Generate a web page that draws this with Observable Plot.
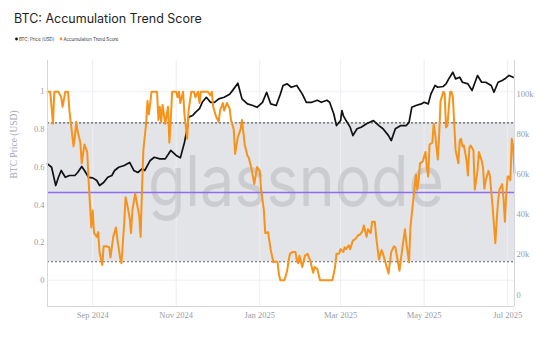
<!DOCTYPE html>
<html><head><meta charset="utf-8">
<script src="https://cdn.jsdelivr.net/npm/d3@7"></script>
<script src="https://cdn.jsdelivr.net/npm/@observablehq/plot@0.6"></script>
<style>
html,body{margin:0;padding:0;background:#fff;}
#wrap{position:relative;width:552px;height:355px;overflow:hidden;font-family:Inter,"Noto Sans",sans-serif;}
#title{position:absolute;left:14px;top:11px;font-size:12.5px;color:#1f1f24;white-space:nowrap;}
#legend{position:absolute;left:0;top:33px;}
#chart{position:absolute;left:0;top:50px;}
</style></head><body>
<div id="wrap">
  <div id="title">BTC: Accumulation Trend Score</div>
  <svg id="legend" width="200" height="12" font-family="Inter, sans-serif" font-size="4.4">
    <circle cx="16.5" cy="6" r="1.4" fill="#111"></circle>
    <text x="19" y="7.6" fill="#333">BTC: Price [USD]</text>
    <circle cx="61" cy="6" r="1.4" fill="#f7931a"></circle>
    <text x="63.5" y="7.6" fill="#333">Accumulation Trend Score</text>
  </svg>
  <div id="chart"></div>
</div>
<script>
// ---- data ----
const priceDates = ["2024-07-30","2024-08-02","2024-08-05","2024-08-07","2024-08-09","2024-08-12","2024-08-15","2024-08-19","2024-08-21","2024-08-24","2024-08-26","2024-08-29","2024-09-01","2024-09-04","2024-09-06","2024-09-09","2024-09-12","2024-09-15","2024-09-17","2024-09-20","2024-09-24","2024-09-28","2024-10-01","2024-10-04","2024-10-07","2024-10-09","2024-10-13","2024-10-16","2024-10-20","2024-10-24","2024-10-28","2024-11-01","2024-11-04","2024-11-07","2024-11-09","2024-11-10","2024-11-13","2024-11-15","2024-11-18","2024-11-20","2024-11-23","2024-11-26","2024-11-29","2024-12-02","2024-12-06","2024-12-10","2024-12-13","2024-12-16","2024-12-19","2024-12-23","2024-12-27","2024-12-30","2025-01-03","2025-01-06","2025-01-09","2025-01-13","2025-01-16","2025-01-18","2025-01-21","2025-01-24","2025-01-28","2025-02-01","2025-02-04","2025-02-08","2025-02-12","2025-02-15","2025-02-19","2025-02-21","2025-02-24","2025-02-26","2025-03-01","2025-03-02","2025-03-03","2025-03-05","2025-03-08","2025-03-10","2025-03-13","2025-03-16","2025-03-20","2025-03-25","2025-03-29","2025-04-01","2025-04-05","2025-04-07","2025-04-10","2025-04-14","2025-04-18","2025-04-20","2025-04-22","2025-04-25","2025-04-29","2025-05-01","2025-05-04","2025-05-06","2025-05-09","2025-05-11","2025-05-15","2025-05-17","2025-05-19","2025-05-22","2025-05-24","2025-05-27","2025-05-29","2025-06-02","2025-06-05","2025-06-09","2025-06-12","2025-06-15","2025-06-19","2025-06-21","2025-06-24","2025-06-27","2025-06-29","2025-07-02","2025-07-05"];
const priceK = [65.3,63.6,54.5,58.6,62.0,58.6,59.5,59.5,61.0,64.0,62.0,58.6,58.3,57.0,54.5,56.0,58.6,59.5,62.0,63.6,64.5,66.0,62.0,61.0,62.8,62.0,67.0,68.6,67.8,67.8,72.0,69.5,68.3,76.0,82.8,88.6,89.4,91.0,92.8,96.0,98.5,96.0,96.0,97.7,98.5,100.0,102.7,105.5,97.7,95.2,94.4,93.5,96.0,101.0,95.2,94.4,100.0,104.4,105.2,103.5,104.4,100.2,96.0,96.0,97.0,96.0,97.0,96.0,90.3,84.4,86.9,91.9,89.4,86.9,83.6,79.4,82.8,83.6,85.3,86.9,84.4,82.8,79.4,76.9,82.8,84.4,84.4,86.0,93.5,94.4,95.2,96.0,95.2,100.2,104.4,103.5,103.9,105.2,107.7,111.0,107.7,108.5,106.0,105.2,101.9,109.4,106.0,106.0,104.4,101.0,106.0,106.9,107.7,109.4,108.5];

const atsDates = ["2024-07-30","2024-08-01","2024-08-03","2024-08-04","2024-08-07","2024-08-09","2024-08-10","2024-08-12","2024-08-14","2024-08-15","2024-08-18","2024-08-19","2024-08-20","2024-08-21","2024-08-23","2024-08-24","2024-08-26","2024-08-28","2024-08-29","2024-08-31","2024-09-01","2024-09-02","2024-09-04","2024-09-05","2024-09-06","2024-09-08","2024-09-09","2024-09-11","2024-09-13","2024-09-14","2024-09-16","2024-09-18","2024-09-19","2024-09-21","2024-09-22","2024-09-24","2024-09-25","2024-09-26","2024-09-28","2024-09-29","2024-09-30","2024-10-02","2024-10-03","2024-10-05","2024-10-06","2024-10-07","2024-10-08","2024-10-10","2024-10-11","2024-10-12","2024-10-14","2024-10-18","2024-10-19","2024-10-20","2024-10-21","2024-10-22","2024-10-24","2024-10-26","2024-10-27","2024-10-28","2024-10-29","2024-11-01","2024-11-02","2024-11-03","2024-11-04","2024-11-06","2024-11-07","2024-11-09","2024-11-10","2024-11-12","2024-11-14","2024-11-15","2024-11-17","2024-11-18","2024-11-19","2024-11-24","2024-11-26","2024-11-27","2024-11-28","2024-11-30","2024-12-02","2024-12-03","2024-12-05","2024-12-06","2024-12-08","2024-12-10","2024-12-11","2024-12-13","2024-12-14","2024-12-16","2024-12-18","2024-12-19","2024-12-21","2024-12-23","2024-12-24","2024-12-26","2024-12-28","2024-12-30","2025-01-01","2025-01-02","2025-01-04","2025-01-05","2025-01-07","2025-01-08","2025-01-09","2025-01-11","2025-01-13","2025-01-14","2025-01-15","2025-01-16","2025-01-19","2025-01-21","2025-01-22","2025-01-23","2025-01-25","2025-01-27","2025-01-28","2025-01-29","2025-01-30","2025-02-01","2025-02-03","2025-02-05","2025-02-07","2025-02-09","2025-02-10","2025-02-12","2025-02-14","2025-02-20","2025-02-23","2025-02-25","2025-02-26","2025-02-28","2025-03-01","2025-03-03","2025-03-04","2025-03-05","2025-03-07","2025-03-08","2025-03-10","2025-03-12","2025-03-14","2025-03-15","2025-03-17","2025-03-18","2025-03-20","2025-03-21","2025-03-23","2025-03-24","2025-03-26","2025-03-27","2025-03-29","2025-03-31","2025-04-01","2025-04-05","2025-04-07","2025-04-09","2025-04-10","2025-04-13","2025-04-15","2025-04-17","2025-04-18","2025-04-20","2025-04-21","2025-04-23","2025-04-25","2025-04-26","2025-04-27","2025-04-28","2025-04-30","2025-05-02","2025-05-03","2025-05-04","2025-05-05","2025-05-07","2025-05-08","2025-05-09","2025-05-11","2025-05-12","2025-05-13","2025-05-15","2025-05-16","2025-05-17","2025-05-18","2025-05-20","2025-05-21","2025-05-22","2025-05-23","2025-05-24","2025-05-26","2025-05-27","2025-05-28","2025-05-29","2025-05-30","2025-06-01","2025-06-02","2025-06-03","2025-06-04","2025-06-06","2025-06-07","2025-06-09","2025-06-10","2025-06-12","2025-06-13","2025-06-14","2025-06-15","2025-06-17","2025-06-18","2025-06-20","2025-06-22","2025-06-23","2025-06-24","2025-06-25","2025-06-27","2025-06-28","2025-06-29","2025-06-30","2025-07-01","2025-07-02","2025-07-03","2025-07-04","2025-07-05","2025-07-06"];
const atsValues = [1.0,1.0,0.83,1.0,1.0,0.97,0.92,1.0,1.0,0.90,0.71,0.76,0.84,0.79,0.73,0.62,0.72,0.68,0.53,0.28,0.37,0.25,0.23,0.255,0.15,0.08,0.18,0.18,0.175,0.12,0.23,0.28,0.22,0.12,0.09,0.30,0.44,0.41,0.33,0.25,0.37,0.46,0.42,0.34,0.23,0.48,0.69,0.83,0.95,0.88,1.0,1.0,0.85,0.92,0.84,0.93,0.83,0.92,0.73,0.85,1.0,1.0,0.97,1.0,0.94,1.0,0.88,0.75,0.90,1.0,1.0,0.97,1.0,0.94,1.0,1.0,0.98,1.0,0.92,0.87,0.84,0.90,0.94,0.90,0.94,0.91,0.85,0.80,0.67,0.76,0.80,0.85,0.72,0.66,0.65,0.59,0.51,0.60,0.58,0.48,0.37,0.25,0.255,0.21,0.16,0.095,0.10,0.095,0.03,0.0,0.0,0.05,0.10,0.14,0.15,0.15,0.11,0.09,0.13,0.07,0.13,0.14,0.10,0.04,0.07,0.06,0.0,0.0,0.0,0.07,0.14,0.14,0.165,0.15,0.175,0.165,0.185,0.165,0.21,0.22,0.24,0.24,0.26,0.29,0.23,0.27,0.25,0.31,0.31,0.23,0.11,0.16,0.14,0.035,0.15,0.18,0.175,0.05,0.165,0.27,0.20,0.095,0.28,0.42,0.56,0.48,0.53,0.62,0.63,0.68,0.60,0.55,0.72,0.73,0.83,0.78,0.64,0.77,0.95,1.0,0.99,0.81,0.82,1.0,1.0,0.97,0.83,0.69,0.62,0.74,0.75,0.71,0.715,0.635,0.556,0.70,0.715,0.69,0.48,0.58,0.68,0.635,0.60,0.485,0.53,0.58,0.556,0.39,0.196,0.316,0.42,0.48,0.51,0.43,0.31,0.46,0.55,0.55,0.53,0.75,0.71,0.57];

const bandLow = 0.098, bandHigh = 0.835, avgLevel = 0.465;
const leftTicks = [0, 0.2, 0.4, 0.6, 0.8, 1];
const leftTickLabels = ["0", "0.2", "0.4", "0.6", "0.8", "1"];
const priceTicks = [0, 20000, 40000, 60000, 80000, 100000];
const priceTickLabels = ["0", "20k", "40k", "60k", "80k", "100k"];
const xTicks = ["2024-09-01","2024-11-01","2025-01-01","2025-03-01","2025-05-01","2025-07-01"];
const xDomainStr = ["2024-07-30", "2025-07-06"];
const yDomain = [-0.1395, 1.1655];
const priceDomain = [-5830, 116850];

// ---- build ----
const parse = d3.utcParse("%Y-%m-%d");
const priceToV = p => yDomain[0] + (p - priceDomain[0]) / (priceDomain[1] - priceDomain[0]) * (yDomain[1] - yDomain[0]);
const price = priceDates.map((d, i) => ({date: parse(d), v: priceToV(priceK[i] * 1000)}));
const ats = atsDates.map((d, i) => ({date: parse(d), v: atsValues[i]}));
const xDomain = xDomainStr.map(parse);
const xTickDates = xTicks.map(parse);
const priceTickPos = priceTicks.map(priceToV);
const leftLabel = new Map(leftTicks.map((t, i) => [t, leftTickLabels[i]]));
const rightLabel = new Map(priceTickPos.map((t, i) => [t, priceTickLabels[i]]));
const fmtX = d3.utcFormat("%b %Y");
const tickColor = "#9a9ca6";

const chart = Plot.plot({
  width: 552, height: 305,
  marginTop: 10, marginBottom: 49, marginLeft: 47, marginRight: 38,
  x: {type: "utc", domain: xDomain},
  y: {domain: yDomain},
  style: {fontFamily: "'Liberation Serif', serif", fontSize: "8.5px", color: tickColor, background: "transparent", overflow: "visible"},
  marks: [
    Plot.ruleY(leftTicks, {stroke: "#eef0f4"}),
    Plot.areaY(xDomain, {x: d => d, y1: bandLow, y2: bandHigh, fill: "#e3e4e8"}),
    Plot.ruleX(xTickDates, {stroke: "#eceef2"}),
    Plot.text(["glassnode"], {frameAnchor: "middle", text: d => d, dx: 15, dy: 0, fontSize: 70, fontFamily: "Inter, sans-serif", fontWeight: 400, fill: "#000", fillOpacity: 0.1}),
    Plot.ruleY([bandLow, bandHigh], {stroke: "#5c5c62", strokeDasharray: "2,2", strokeWidth: 1.2}),
    Plot.ruleY([avgLevel], {stroke: "#8c6cf0", strokeWidth: 1.6}),
    Plot.lineY(price, {x: "date", y: "v", stroke: "#111", strokeWidth: 1.7}),
    Plot.lineY(ats, {x: "date", y: "v", stroke: "#f7931a", strokeWidth: 2}),
    Plot.ruleX(xDomain, {stroke: "#d4d7df"}),
    Plot.ruleY([yDomain[0]], {stroke: "#d4d7df"}),
    Plot.axisX(xTickDates, {tickSize: 0, tickPadding: 5, tickFormat: d => fmtX(d), label: null, fill: tickColor}),
    Plot.axisY(leftTicks, {anchor: "left", tickSize: 0, tickPadding: 3, tickFormat: d => leftLabel.get(d), label: null, fill: tickColor}),
    Plot.axisY(priceTickPos, {anchor: "right", tickSize: 0, tickPadding: 2, tickFormat: d => rightLabel.get(d), label: null, fill: tickColor}),
    Plot.text(["BTC Price (USD)"], {frameAnchor: "left", text: d => d, rotate: -90, dx: -34, dy: -5, fontSize: 9.5, fill: "#a5a8ba"})
  ]
});
document.getElementById("chart").appendChild(chart);
chart.querySelectorAll("text").forEach(t => {
  if (t.textContent === "glassnode") {
    t.setAttribute("textLength", "296");
    t.setAttribute("lengthAdjust", "spacingAndGlyphs");
  }
});
</script>
</body></html>
